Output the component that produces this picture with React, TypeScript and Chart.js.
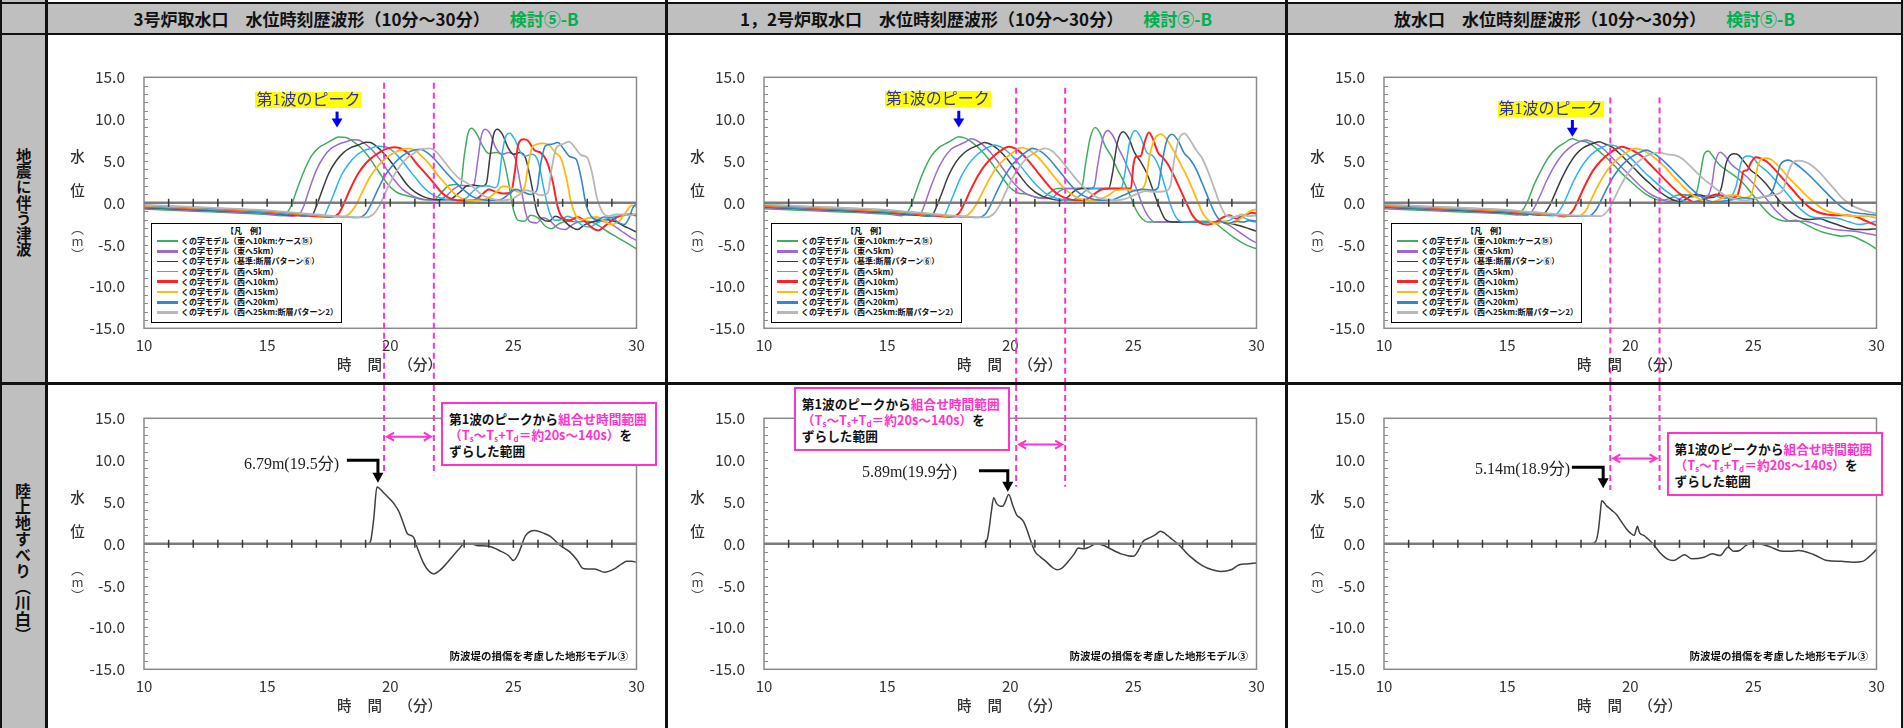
import React, { useEffect, useRef } from "react";
import { Chart, registerables } from "chart.js";

Chart.register(...registerables);

type Pt = [number, number];

// ---------------- labels / categories ----------------
const COLUMN_TITLES = [
  "3号炉取水口　水位時刻歴波形（10分～30分）",
  "1，2号炉取水口　水位時刻歴波形（10分～30分）",
  "放水口　水位時刻歴波形（10分～30分）",
];
const CASE_TAG = "検討⑤-B";
const ROW_LABELS = ["地震に伴う津波", "陸上地すべり（川白）"];
const SERIES_NAMES = [
  "くの字モデル（東へ10km:ケース⑮）",
  "くの字モデル（東へ5km）",
  "くの字モデル（基準:断層パターン⑥）",
  "くの字モデル（西へ5km）",
  "くの字モデル（西へ10km）",
  "くの字モデル（西へ15km）",
  "くの字モデル（西へ20km）",
  "くの字モデル（西へ25km:断層パターン2）",
];
const LEGEND_TITLE = "【凡　例】";
const FIRST_PEAK_LABEL = "第1波のピーク";
const FOOTNOTE = "防波堤の損傷を考慮した地形モデル③";
const X_TICKS = [10, 15, 20, 25, 30];
const Y_TICKS = [-15, -10, -5, 0, 5, 10, 15];
const PEAK_TIMES = [19.5, 19.9, 18.9];
const PEAK_VALUES = [6.79, 5.89, 5.14];
const RANGE_START = [19.75, 20.24, 19.19];
const RANGE_END = [21.77, 22.23, 21.19];
const FIRST_PEAK_TIMES = [17.84, 17.91, 17.65];

// ---------------- 3号炉取水口 (top) ----------------
const C1_E10: Pt[] = [[10,-0.75],[12,-1.0],[14,-1.25],[15,-1.4],[15.6,-1.55],[15.85,-1.0],[16,-0.2],[16.2,1.5],[16.5,3.8],[16.8,5.6],[17.1,6.6],[17.4,7.1],[17.7,7.6],[17.9,7.85],[18.2,7.8],[18.5,7.3],[18.8,6.6],[19.1,5.6],[19.4,4.3],[19.7,3.0],[20,1.9],[20.3,1.2],[20.6,0.9],[21,0.6],[21.4,0.35],[21.8,0.4],[22.1,1.3],[22.4,2.1],[22.7,2.2],[22.85,2.0],[23,5.5],[23.15,8.2],[23.3,8.9],[23.5,8.3],[23.75,6.8],[24,5.9],[24.3,6.0],[24.55,5.6],[24.8,2.5],[25,-0.8],[25.2,-2.1],[25.45,-2.2],[25.7,-1.5],[26,-1.8],[26.3,-2.8],[26.55,-3.1],[26.85,-2.5],[27.2,-2.2],[27.6,-2.3],[28,-2.2],[28.4,-2.6],[28.8,-3.4],[29.2,-4.1],[29.6,-4.8],[30,-5.5]];
const C1_E5: Pt[] = [[10,-0.65],[12,-0.9],[14,-1.15],[15,-1.3],[16,-1.6],[16.3,-1.4],[16.5,-0.3],[16.7,1.5],[17,3.9],[17.3,5.5],[17.6,6.5],[17.9,7.0],[18.2,7.3],[18.5,7.55],[18.7,7.5],[19,7.0],[19.3,6.2],[19.6,5.1],[19.9,3.8],[20.2,2.6],[20.5,1.6],[20.8,1.0],[21.1,0.6],[21.5,0.35],[21.9,0.3],[22.3,0.9],[22.6,1.7],[22.9,2.1],[23.2,2.0],[23.4,2.2],[23.55,5.0],[23.7,8.0],[23.85,8.8],[24.05,8.3],[24.3,6.5],[24.55,5.8],[24.8,6.0],[25.05,5.5],[25.3,2.0],[25.5,-1.2],[25.7,-2.3],[25.95,-2.4],[26.2,-1.8],[26.5,-2.2],[26.8,-3.0],[27.1,-3.2],[27.4,-2.6],[27.8,-2.2],[28.2,-2.3],[28.6,-2.2],[29,-2.6],[29.4,-3.4],[29.7,-4.0],[30,-4.5]];
const C1_BASE: Pt[] = [[10,-0.55],[12,-0.8],[14,-1.05],[15,-1.2],[16,-1.5],[16.8,-1.6],[17,-0.4],[17.2,1.2],[17.5,3.5],[17.8,5.0],[18.1,6.0],[18.4,6.6],[18.7,6.9],[19,7.25],[19.2,7.2],[19.5,6.6],[19.8,5.7],[20.1,4.6],[20.4,3.3],[20.7,2.1],[21,1.3],[21.3,0.8],[21.6,0.5],[22,0.35],[22.4,0.4],[22.8,1.2],[23.1,2.0],[23.4,2.1],[23.7,2.0],[23.9,2.3],[24.05,5.5],[24.2,8.2],[24.35,8.8],[24.55,8.2],[24.8,6.5],[25,5.8],[25.25,6.0],[25.5,5.3],[25.75,2.0],[25.95,-1.0],[26.2,-2.0],[26.45,-2.2],[26.7,-1.6],[27,-2.0],[27.3,-2.8],[27.6,-3.2],[27.9,-2.6],[28.3,-2.2],[28.7,-2.0],[29.1,-2.2],[29.5,-2.8],[29.8,-3.2],[30,-3.5]];
const C1_W5: Pt[] = [[10,-0.5],[12,-0.75],[14,-1.0],[15,-1.15],[16,-1.4],[17,-1.65],[17.3,-1.55],[17.5,-0.4],[17.7,1.0],[18,3.2],[18.3,4.6],[18.6,5.6],[18.9,6.2],[19.2,6.5],[19.5,6.75],[19.8,6.7],[20.1,6.2],[20.4,5.3],[20.7,4.2],[21,3.1],[21.3,2.0],[21.6,1.2],[21.9,0.7],[22.3,0.4],[22.7,0.3],[23.1,0.6],[23.4,1.5],[23.7,2.0],[24,2.0],[24.25,1.8],[24.4,2.5],[24.55,6.0],[24.7,8.0],[24.85,8.3],[25.05,7.6],[25.3,6.0],[25.5,5.6],[25.75,5.8],[26,5.0],[26.25,1.5],[26.45,-1.0],[26.7,-2.1],[26.95,-2.0],[27.2,-1.6],[27.5,-2.0],[27.8,-2.7],[28.1,-2.9],[28.4,-2.4],[28.8,-1.9],[29.2,-1.6],[29.6,-1.5],[29.8,-1.3],[30,-1.6]];
const C1_W10: Pt[] = [[10,-0.4],[12,-0.65],[14,-0.9],[15,-1.05],[16,-1.3],[17,-1.6],[17.6,-1.7],[17.9,-1.3],[18.1,-0.2],[18.4,1.8],[18.7,3.5],[19,4.7],[19.3,5.5],[19.6,6.1],[19.9,6.5],[20.2,6.65],[20.5,6.4],[20.8,5.7],[21.1,4.6],[21.4,3.6],[21.7,2.6],[22,1.5],[22.3,0.7],[22.6,0.35],[23,0.25],[23.4,0.3],[23.7,0.9],[24,1.6],[24.3,1.3],[24.6,1.1],[24.9,1.2],[25.05,3.5],[25.2,7.0],[25.4,7.6],[25.6,7.4],[25.85,6.3],[26.1,6.0],[26.35,5.0],[26.6,2.5],[26.8,-0.5],[27,-1.8],[27.3,-2.1],[27.6,-1.7],[27.9,-2.2],[28.2,-3.0],[28.45,-3.3],[28.75,-2.7],[29.1,-1.9],[29.4,-1.5],[29.7,-1.4],[30,-1.5]];
const C1_W15: Pt[] = [[10,-0.35],[12,-0.6],[14,-0.85],[15,-1.0],[16,-1.25],[17,-1.5],[18,-1.7],[18.3,-1.4],[18.6,-0.3],[18.9,1.5],[19.2,3.2],[19.5,4.4],[19.8,5.3],[20.1,5.9],[20.4,6.3],[20.7,6.5],[21,6.3],[21.3,5.5],[21.6,4.6],[21.9,3.4],[22.2,2.4],[22.5,1.4],[22.8,0.7],[23.2,0.3],[23.6,0.3],[24,0.6],[24.3,1.3],[24.6,2.0],[24.9,1.8],[25.2,1.3],[25.45,1.8],[25.6,4.5],[25.75,6.5],[25.95,7.0],[26.2,7.1],[26.45,6.9],[26.7,6.0],[26.95,5.2],[27.15,3.0],[27.35,0.0],[27.55,-1.6],[27.8,-2.0],[28.1,-1.8],[28.4,-1.7],[28.7,-2.2],[29,-2.6],[29.3,-2.2],[29.6,-1.0],[29.8,-0.3],[30,-0.5]];
const C1_W20: Pt[] = [[10,-0.3],[12,-0.55],[14,-0.8],[15,-0.95],[16,-1.2],[17,-1.45],[18,-1.65],[18.7,-1.75],[19,-1.3],[19.2,-0.3],[19.5,1.6],[19.8,3.3],[20.1,4.5],[20.4,5.4],[20.7,6.0],[21,6.3],[21.2,6.4],[21.5,6.0],[21.8,5.2],[22.1,4.2],[22.4,3.2],[22.7,2.3],[23,1.5],[23.3,0.8],[23.7,0.4],[24.1,0.3],[24.5,0.4],[24.8,1.0],[25.1,1.6],[25.4,1.3],[25.7,1.0],[25.95,1.5],[26.1,4.5],[26.3,6.8],[26.55,7.0],[26.8,7.2],[27.05,6.4],[27.3,5.5],[27.55,5.2],[27.75,3.0],[27.95,-0.2],[28.15,-1.6],[28.4,-2.0],[28.7,-1.7],[29,-1.8],[29.3,-2.4],[29.5,-2.6],[29.7,-1.8],[29.85,-0.6],[30,-0.1]];
const C1_W25: Pt[] = [[10,-0.25],[12,-0.5],[14,-0.75],[15,-0.9],[16,-1.15],[17,-1.4],[18,-1.65],[19,-1.75],[19.3,-1.4],[19.55,-0.4],[19.8,1.2],[20.1,3.0],[20.4,4.4],[20.7,5.4],[21,6.0],[21.3,6.45],[21.6,6.5],[21.9,6.0],[22.2,4.9],[22.5,3.8],[22.8,2.9],[23.1,2.4],[23.4,1.8],[23.7,1.0],[24.1,0.5],[24.5,0.3],[24.9,0.4],[25.2,0.9],[25.5,1.5],[25.8,1.3],[26.1,0.9],[26.4,1.2],[26.55,4.0],[26.75,6.6],[27,7.0],[27.25,7.3],[27.5,6.6],[27.75,5.7],[28,5.4],[28.2,3.5],[28.4,0.5],[28.6,-1.0],[28.85,-1.6],[29.15,-1.4],[29.45,-1.4],[29.75,-1.5],[30,-1.3]];

// ---------------- 1,2号炉取水口 (top) ----------------
const C2_E10: Pt[] = [[10,-0.7],[12,-0.95],[14,-1.2],[15,-1.35],[15.6,-1.55],[15.85,-1.0],[16,-0.1],[16.2,1.6],[16.5,3.9],[16.8,5.6],[17.1,6.6],[17.4,7.1],[17.7,7.6],[17.9,7.9],[18.2,7.7],[18.5,7.1],[18.8,6.3],[19.1,5.3],[19.4,4.1],[19.7,2.9],[20,1.8],[20.3,1.2],[20.7,1.0],[21,0.7],[21.3,0.6],[21.6,1.2],[21.9,1.7],[22.3,1.7],[22.7,1.7],[22.9,1.8],[23.05,4.5],[23.25,7.8],[23.45,9.0],[23.65,8.3],[23.85,6.8],[24.1,5.6],[24.35,4.0],[24.6,2.6],[24.85,1.0],[25.1,-0.8],[25.35,-1.9],[25.6,-2.3],[26,-2.3],[26.5,-2.3],[27,-2.3],[27.5,-2.2],[28,-2.2],[28.3,-2.4],[28.7,-3.3],[29.1,-4.2],[29.5,-4.9],[29.8,-5.3],[30,-5.5]];
const C2_E5: Pt[] = [[10,-0.6],[12,-0.85],[14,-1.1],[15,-1.25],[16,-1.5],[16.3,-1.5],[16.5,-0.4],[16.7,1.3],[17,3.6],[17.3,5.3],[17.6,6.4],[17.9,6.9],[18.2,7.3],[18.4,7.65],[18.6,7.5],[18.9,6.9],[19.2,6.0],[19.5,4.9],[19.8,3.7],[20.1,2.5],[20.4,1.6],[20.7,1.0],[21,0.7],[21.4,0.5],[21.7,0.6],[22,1.4],[22.3,1.7],[22.8,1.7],[23.2,1.7],[23.4,1.9],[23.55,4.5],[23.75,7.6],[23.95,8.65],[24.15,8.1],[24.4,6.5],[24.65,5.0],[24.9,3.3],[25.15,1.5],[25.4,-0.5],[25.65,-1.8],[25.9,-2.3],[26.4,-2.3],[27,-2.3],[27.5,-2.3],[28,-2.3],[28.5,-2.2],[28.9,-2.7],[29.3,-3.5],[29.7,-4.3],[30,-4.8]];
const C2_BASE: Pt[] = [[10,-0.5],[12,-0.75],[14,-1.0],[15,-1.15],[16,-1.4],[16.8,-1.6],[17,-0.5],[17.2,1.0],[17.5,3.3],[17.8,4.9],[18.1,5.9],[18.4,6.5],[18.7,6.9],[18.95,7.2],[19.2,7.0],[19.5,6.4],[19.8,5.5],[20.1,4.4],[20.4,3.2],[20.7,2.1],[21,1.3],[21.3,0.8],[21.6,0.5],[22,0.3],[22.3,0.6],[22.6,1.4],[22.9,1.7],[23.5,1.7],[24,1.7],[24.15,3.5],[24.35,7.2],[24.58,8.5],[24.8,7.8],[25.05,6.0],[25.3,4.9],[25.55,3.5],[25.8,1.5],[26.05,-0.5],[26.3,-2.0],[26.6,-2.3],[27.1,-2.3],[27.6,-2.3],[28.1,-2.3],[28.6,-2.3],[29,-2.5],[29.4,-2.8],[29.7,-3.1],[30,-3.4]];
const C2_W5: Pt[] = [[10,-0.45],[12,-0.7],[14,-0.95],[15,-1.1],[16,-1.35],[17,-1.6],[17.3,-1.55],[17.5,-0.4],[17.7,1.0],[18,3.1],[18.3,4.6],[18.6,5.6],[18.9,6.3],[19.15,6.7],[19.36,6.9],[19.6,6.7],[19.9,6.1],[20.2,5.2],[20.5,4.1],[20.8,3.0],[21.1,2.0],[21.4,1.2],[21.7,0.7],[22.1,0.4],[22.5,0.3],[22.8,0.8],[23.1,1.5],[23.4,1.7],[24,1.7],[24.5,1.7],[24.65,3.5],[24.85,7.3],[25.08,8.65],[25.3,7.8],[25.55,6.0],[25.8,5.6],[26.05,4.2],[26.3,1.8],[26.55,-0.6],[26.8,-2.0],[27.1,-2.3],[27.6,-2.3],[28.1,-2.3],[28.5,-2.3],[28.9,-2.1],[29.2,-1.6],[29.5,-1.8],[29.8,-2.2],[30,-2.3]];
const C2_W10: Pt[] = [[10,-0.35],[12,-0.6],[14,-0.85],[15,-1.0],[16,-1.25],[17,-1.55],[17.6,-1.7],[17.9,-1.3],[18.1,-0.3],[18.4,1.6],[18.7,3.3],[19,4.6],[19.3,5.5],[19.6,6.2],[19.94,6.7],[20.2,6.5],[20.5,5.8],[20.8,4.8],[21.1,3.7],[21.4,2.6],[21.7,1.6],[22,0.9],[22.3,0.5],[22.7,0.3],[23.1,0.4],[23.4,1.0],[23.7,1.6],[24.1,1.7],[24.6,1.7],[24.9,1.7],[25,4.5],[25.1,5.5],[25.3,5.6],[25.45,7.2],[25.63,8.4],[25.8,7.6],[26,6.0],[26.2,5.4],[26.4,4.6],[26.65,3.2],[26.9,1.6],[27.15,0.0],[27.4,-1.5],[27.7,-2.4],[28,-2.6],[28.3,-2.4],[28.6,-1.8],[28.9,-1.5],[29.2,-1.9],[29.5,-1.5],[29.8,-1.2],[30,-1.3]];
const C2_W15: Pt[] = [[10,-0.3],[12,-0.55],[14,-0.8],[15,-0.95],[16,-1.2],[17,-1.45],[18,-1.7],[18.3,-1.4],[18.6,-0.3],[18.9,1.4],[19.2,3.1],[19.5,4.4],[19.8,5.3],[20.1,6.0],[20.44,6.6],[20.7,6.4],[21,5.8],[21.3,4.9],[21.6,3.8],[21.9,2.7],[22.2,1.7],[22.5,1.0],[22.8,0.5],[23.2,0.3],[23.6,0.4],[24,0.9],[24.3,1.5],[24.7,1.6],[25,1.5],[25.3,1.6],[25.5,2.5],[25.65,5.5],[25.85,7.5],[26.12,8.2],[26.35,7.6],[26.6,6.4],[26.85,5.0],[27.1,3.6],[27.35,2.0],[27.6,0.2],[27.85,-1.4],[28.1,-2.2],[28.4,-2.5],[28.7,-2.2],[29,-2.5],[29.3,-2.0],[29.6,-1.3],[29.8,-0.9],[30,-0.8]];
const C2_W20: Pt[] = [[10,-0.25],[12,-0.5],[14,-0.75],[15,-0.9],[16,-1.15],[17,-1.4],[18,-1.65],[18.7,-1.75],[19,-1.3],[19.2,-0.3],[19.5,1.6],[19.8,3.3],[20.1,4.6],[20.4,5.5],[20.7,6.2],[20.89,6.5],[21.2,6.2],[21.5,5.5],[21.8,4.5],[22.1,3.4],[22.4,2.3],[22.7,1.4],[23,0.8],[23.4,0.4],[23.8,0.3],[24.2,0.4],[24.6,0.9],[25,1.4],[25.4,1.6],[25.8,1.5],[26,1.8],[26.15,4.5],[26.35,7.4],[26.57,8.2],[26.8,7.5],[27.05,6.0],[27.3,5.2],[27.55,4.0],[27.8,2.3],[28.05,0.5],[28.3,-1.2],[28.55,-2.2],[28.85,-2.5],[29.15,-2.2],[29.45,-2.3],[29.75,-2.1],[30,-2.2]];
const C2_W25: Pt[] = [[10,-0.2],[12,-0.45],[14,-0.7],[15,-0.85],[16,-1.1],[17,-1.35],[18,-1.6],[19,-1.75],[19.3,-1.4],[19.55,-0.4],[19.8,1.2],[20.1,3.0],[20.4,4.4],[20.7,5.4],[21,6.0],[21.25,6.4],[21.43,6.5],[21.7,6.2],[22,5.3],[22.3,4.2],[22.6,3.1],[22.9,2.1],[23.2,1.3],[23.5,0.7],[23.9,0.4],[24.3,0.3],[24.7,0.5],[25.1,1.0],[25.5,1.4],[25.9,1.3],[26.3,1.4],[26.5,2.0],[26.65,5.0],[26.85,7.6],[27.07,8.3],[27.3,7.5],[27.55,6.3],[27.8,5.3],[28.05,3.6],[28.3,1.6],[28.55,-0.4],[28.8,-1.6],[29.1,-1.7],[29.4,-1.4],[29.7,-1.6],[30,-1.5]];

// ---------------- 放水口 (top) ----------------
const C3_E10: Pt[] = [[10,-0.7],[12,-0.95],[14,-1.2],[15,-1.35],[15.4,-1.45],[15.65,-0.8],[15.85,0.3],[16.1,2.2],[16.4,4.0],[16.7,5.5],[17,6.5],[17.3,7.1],[17.65,7.65],[17.9,7.4],[18.2,7.3],[18.5,6.8],[18.8,6.0],[19.1,5.2],[19.4,4.3],[19.7,3.4],[20,2.6],[20.3,1.8],[20.6,1.1],[20.9,0.6],[21.2,0.3],[21.6,0.5],[21.9,0.9],[22.2,1.0],[22.5,0.7],[22.7,1.3],[22.85,3.5],[23,5.8],[23.17,6.2],[23.35,5.6],[23.6,4.6],[23.9,3.9],[24.2,3.3],[24.5,2.6],[24.8,1.6],[25.1,0.5],[25.4,-0.6],[25.7,-1.5],[26,-2.0],[26.35,-2.2],[26.7,-2.1],[27,-2.4],[27.4,-3.0],[27.8,-3.5],[28.2,-3.8],[28.6,-4.0],[28.9,-3.9],[29.2,-4.2],[29.6,-4.8],[30,-5.5]];
const C3_E5: Pt[] = [[10,-0.6],[12,-0.85],[14,-1.1],[15,-1.25],[15.8,-1.5],[16.1,-0.6],[16.3,0.6],[16.6,2.6],[16.9,4.3],[17.2,5.6],[17.5,6.5],[17.8,7.1],[18.2,7.5],[18.5,7.2],[18.8,6.7],[19.1,5.9],[19.4,5.0],[19.7,4.1],[20,3.2],[20.3,2.3],[20.6,1.5],[20.9,0.9],[21.2,0.5],[21.5,0.2],[21.9,0.3],[22.2,0.8],[22.5,1.0],[22.8,0.8],[23.1,0.8],[23.3,2.0],[23.45,4.8],[23.65,6.05],[23.85,5.6],[24.1,4.6],[24.4,3.9],[24.7,3.2],[25,2.3],[25.3,1.3],[25.6,0.2],[25.9,-0.9],[26.2,-1.7],[26.5,-2.2],[26.8,-2.2],[27.1,-2.2],[27.5,-2.5],[27.9,-2.9],[28.3,-3.2],[28.7,-3.3],[29.1,-3.4],[29.5,-3.6],[30,-3.9]];
const C3_BASE: Pt[] = [[10,-0.5],[12,-0.75],[14,-1.0],[15,-1.15],[16,-1.4],[16.4,-1.5],[16.7,-0.5],[16.9,0.8],[17.2,2.8],[17.5,4.5],[17.8,5.8],[18.1,6.6],[18.4,7.0],[18.73,7.3],[19,7.0],[19.3,6.6],[19.6,5.8],[19.9,4.9],[20.2,4.0],[20.5,3.1],[20.8,2.3],[21.1,1.5],[21.4,0.9],[21.7,0.4],[22,0.1],[22.3,0.5],[22.6,1.0],[22.9,0.9],[23.2,0.6],[23.5,0.8],[23.7,1.8],[23.9,4.8],[24.2,5.85],[24.4,5.7],[24.65,4.8],[24.9,3.9],[25.2,3.2],[25.5,2.3],[25.8,1.2],[26.1,0.1],[26.4,-0.8],[26.7,-1.5],[27,-1.9],[27.3,-2.0],[27.7,-1.9],[28,-2.2],[28.4,-2.6],[28.8,-3.0],[29.2,-3.2],[29.6,-3.2],[30,-3.1]];
const C3_W5: Pt[] = [[10,-0.45],[12,-0.7],[14,-0.95],[15,-1.1],[16,-1.35],[16.9,-1.55],[17.2,-0.6],[17.4,0.6],[17.7,2.6],[18,4.2],[18.3,5.4],[18.6,6.2],[18.9,6.7],[19.13,6.9],[19.4,6.8],[19.7,6.2],[20,5.4],[20.3,4.5],[20.6,3.6],[20.9,2.8],[21.2,2.0],[21.5,1.3],[21.8,0.7],[22.1,0.3],[22.5,0.1],[22.9,0.4],[23.2,0.9],[23.5,0.8],[23.8,0.5],[24.1,0.8],[24.3,2.0],[24.5,4.8],[24.73,5.6],[24.95,5.5],[25.2,4.6],[25.5,3.9],[25.8,3.0],[26.1,2.0],[26.4,1.0],[26.7,-0.1],[27,-1.0],[27.3,-1.6],[27.7,-1.8],[28.1,-1.8],[28.5,-1.9],[28.9,-2.3],[29.3,-2.6],[29.7,-2.4],[30,-2.2]];
const C3_W10: Pt[] = [[10,-0.35],[12,-0.6],[14,-0.85],[15,-1.0],[16,-1.25],[17,-1.5],[17.4,-1.6],[17.7,-0.8],[17.9,0.4],[18.2,2.3],[18.5,3.9],[18.8,5.0],[19.1,5.8],[19.4,6.4],[19.65,6.7],[19.9,6.5],[20.2,6.1],[20.5,5.5],[20.8,4.6],[21.1,3.7],[21.4,2.8],[21.7,1.9],[22,1.1],[22.3,0.5],[22.6,0.1],[22.9,0.2],[23.2,0.7],[23.5,1.0],[23.8,0.8],[24.1,0.6],[24.35,0.9],[24.5,2.5],[24.6,3.8],[24.75,3.9],[24.9,4.8],[25.1,5.45],[25.3,5.3],[25.55,4.9],[25.8,4.2],[26.1,3.2],[26.4,2.2],[26.7,1.2],[27,0.2],[27.3,-0.6],[27.6,-1.1],[28,-1.4],[28.4,-1.5],[28.8,-1.5],[29.2,-1.7],[29.6,-2.2],[30,-2.7]];
const C3_W15: Pt[] = [[10,-0.3],[12,-0.55],[14,-0.8],[15,-0.95],[16,-1.2],[17,-1.45],[17.9,-1.6],[18.2,-0.9],[18.4,0.3],[18.7,2.1],[19,3.6],[19.3,4.7],[19.6,5.5],[19.9,6.1],[20.2,6.5],[20.5,6.3],[20.8,5.8],[21.1,5.1],[21.4,4.3],[21.7,3.3],[22,2.4],[22.3,1.5],[22.6,0.8],[22.9,0.3],[23.3,0.1],[23.7,0.5],[24,0.9],[24.3,0.9],[24.6,0.6],[24.9,0.9],[25.05,2.5],[25.2,4.6],[25.47,5.35],[25.7,5.2],[25.95,4.6],[26.2,3.8],[26.5,2.8],[26.8,1.9],[27.1,1.0],[27.4,0.2],[27.7,-0.5],[28,-1.0],[28.4,-1.3],[28.8,-1.5],[29.2,-1.6],[29.6,-1.6],[30,-1.8]];
const C3_W20: Pt[] = [[10,-0.25],[12,-0.5],[14,-0.75],[15,-0.9],[16,-1.15],[17,-1.4],[18,-1.6],[18.3,-1.6],[18.6,-0.9],[18.8,0.2],[19.1,2.0],[19.4,3.5],[19.7,4.6],[20,5.4],[20.3,5.9],[20.67,6.3],[20.9,6.0],[21.2,5.4],[21.5,4.6],[21.8,3.7],[22.1,2.8],[22.4,1.9],[22.7,1.1],[23,0.5],[23.4,0.1],[23.8,0.2],[24.2,0.4],[24.6,0.6],[25,0.5],[25.4,0.7],[25.7,1.0],[25.9,2.5],[26.1,4.6],[26.43,5.1],[26.7,4.7],[27,4.0],[27.3,3.2],[27.6,2.3],[27.9,1.4],[28.2,0.5],[28.5,-0.3],[28.8,-0.9],[29.1,-1.2],[29.5,-1.3],[30,-1.5]];
const C3_W25: Pt[] = [[10,-0.2],[12,-0.45],[14,-0.7],[15,-0.85],[16,-1.1],[17,-1.35],[18,-1.55],[18.8,-1.6],[19.1,-0.9],[19.3,0.2],[19.6,2.0],[19.9,3.5],[20.2,4.6],[20.5,5.3],[20.8,5.8],[21.2,6.0],[21.5,5.8],[21.8,5.7],[22.1,5.3],[22.4,4.5],[22.7,3.6],[23,2.8],[23.3,2.1],[23.6,1.4],[23.9,0.8],[24.3,0.4],[24.7,0.3],[25.1,0.5],[25.5,0.8],[25.9,1.0],[26.2,1.5],[26.4,3.5],[26.6,4.8],[26.8,5.05],[27.1,4.9],[27.4,4.4],[27.7,3.6],[28,2.6],[28.3,1.6],[28.6,0.6],[28.9,-0.1],[29.2,-0.6],[29.6,-1.0],[30,-1.3]];

// ---------------- 陸上地すべり (bottom) ----------------
const L1_LAND: Pt[] = [[10,0],[18,0],[19.1,0],[19.2,0.3],[19.33,3.0],[19.46,6.79],[19.7,6.2],[20,5.3],[20.2,4.6],[20.36,3.8],[20.55,2.3],[20.7,1.2],[20.94,0.8],[21.1,-0.5],[21.35,-2.3],[21.55,-3.2],[21.76,-3.6],[22,-3.2],[22.18,-2.7],[22.5,-1.6],[22.8,-0.6],[23,0.0],[23.3,0.0],[23.5,-0.2],[24,-0.3],[24.5,-0.9],[24.8,-1.4],[25,-2.0],[25.2,-1.2],[25.5,1.0],[25.87,1.6],[26.2,1.3],[26.5,0.9],[26.9,-0.2],[27.3,-1.0],[27.6,-2.0],[27.8,-2.9],[28,-3.0],[28.3,-3.0],[28.7,-3.4],[29.1,-3.0],[29.4,-2.4],[29.6,-2.1],[29.8,-2.1],[30,-2.2]];
const L2_LAND: Pt[] = [[10,0],[18.86,0],[19.05,0.4],[19.15,2.0],[19.23,3.8],[19.33,5.5],[19.45,4.8],[19.6,4.5],[19.7,4.5],[19.78,4.9],[19.94,5.89],[20.1,4.6],[20.27,3.4],[20.4,3.1],[20.55,2.6],[20.7,1.5],[20.85,0.2],[21,-0.9],[21.2,-1.5],[21.45,-2.1],[21.7,-2.8],[21.9,-3.1],[22.1,-2.9],[22.3,-2.3],[22.6,-1.2],[22.76,-0.5],[23,-0.6],[23.2,-0.4],[23.5,0.0],[23.8,-0.2],[24,-0.5],[24.5,-1.2],[25,-1.5],[25.2,-0.8],[25.4,0.3],[25.65,0.7],[25.9,1.1],[26.1,1.5],[26.3,1.2],[26.5,0.7],[26.8,0.0],[27,-0.6],[27.3,-1.5],[27.8,-2.6],[28.2,-3.1],[28.55,-3.3],[28.97,-3.1],[29.3,-2.5],[29.6,-2.4],[30,-2.3]];
const L3_LAND: Pt[] = [[10,0],[18.4,0],[18.6,0.3],[18.7,1.5],[18.78,3.6],[18.84,5.14],[19.05,4.5],[19.25,4.0],[19.44,3.5],[19.65,2.6],[19.84,1.8],[20,1.3],[20.16,1.0],[20.24,1.7],[20.29,2.1],[20.38,1.3],[20.55,1.0],[20.71,0.6],[20.95,-0.1],[21.19,-1.0],[21.5,-1.8],[21.75,-2.0],[22.06,-1.5],[22.2,-1.3],[22.5,-1.8],[23,-1.6],[23.33,-1.2],[23.65,-1.4],[23.97,-0.4],[24.2,-0.9],[24.44,-0.8],[24.7,-0.2],[24.92,0.1],[25.24,0.0],[25.71,-0.4],[26.19,-0.9],[26.5,-0.9],[26.83,-0.8],[27.46,-1.3],[28,-2.0],[28.57,-2.1],[29.05,-2.2],[29.44,-2.1],[29.68,-1.6],[30,-0.7]];

const TOP_SERIES: Pt[][][] = [
  [C1_E10, C1_E5, C1_BASE, C1_W5, C1_W10, C1_W15, C1_W20, C1_W25],
  [C2_E10, C2_E5, C2_BASE, C2_W5, C2_W10, C2_W15, C2_W20, C2_W25],
  [C3_E10, C3_E5, C3_BASE, C3_W5, C3_W10, C3_W15, C3_W20, C3_W25],
];
const LAND_SERIES: Pt[][] = [L1_LAND, L2_LAND, L3_LAND];

// ---------------- styles ----------------
const SERIES_COLORS = ["#3fae5e", "#9b6bd0", "#3c3c3c", "#2ab4ee", "#ff2424", "#ffb814", "#3487cc", "#b8b8b8"];
const SERIES_WIDTHS = [1.5, 1.5, 1.5, 1.5, 2, 1.8, 1.6, 1.8];
const LEGEND_WIDTHS = [1.3, 3, 1.5, 1.5, 3, 1.6, 2.5, 3];
const PINK = "#ff33cc";
const GREEN_TAG = "#00b050";
const GRAY_BG = "#bfbfbf";
const FONT = "'Noto Sans CJK JP', 'Noto Sans', sans-serif";
const SERIF = "'Liberation Serif', 'DejaVu Serif', 'Noto Sans CJK JP', serif";

// ---------------- geometry ----------------
const COL_LEFT = [46, 666, 1286];
const COL_RIGHT = [666, 1286, 1903];
const PLOT_LEFT = [144, 764, 1384];
const PLOT_W = 492.5;
const PLOT_H = 251;
const TOP_PT = 77.3;
const BOT_PT = 418.3;
const ROW1_TOP = 35, ROW1_BOT = 382, ROW2_TOP = 385, ROW2_BOT = 728;
const YW = 64, XH = 30;

interface Deco {
  dashX: number[];
  dashFrom: number | null;
  dashTo: number | null;
  blue?: { x: number; y1: number; y2: number };
  bent?: { x1: number; x2: number; y: number; tip: number };
  dbl?: number;
}

function makePlugin(d: Deco) {
  return {
    id: "deco",
    afterDatasetsDraw(chart: any) {
      const { ctx, chartArea: a } = chart;
      const ys = chart.scales.y, xs = chart.scales.x;
      ctx.save();
      ctx.strokeStyle = "#8a8a8a";
      ctx.lineWidth = 1.5;
      ctx.strokeRect(a.left, a.top, a.right - a.left, a.bottom - a.top);
      ctx.lineWidth = 1;
      for (let v = -14; v <= 14; v++) {
        const py = Math.round(ys.getPixelForValue(v)) + 0.5;
        ctx.beginPath(); ctx.moveTo(a.left, py); ctx.lineTo(a.left + 4, py); ctx.stroke();
      }
      const y0 = ys.getPixelForValue(0);
      ctx.strokeStyle = "#7c7c7c";
      ctx.lineWidth = 2.5;
      ctx.beginPath(); ctx.moveTo(a.left, y0); ctx.lineTo(a.right, y0); ctx.stroke();
      ctx.strokeStyle = "#3a3a3a";
      ctx.lineWidth = 1.5;
      for (let t = 11; t < 30; t++) {
        const px = xs.getPixelForValue(t);
        ctx.beginPath(); ctx.moveTo(px, y0 - 4); ctx.lineTo(px, y0 + 4); ctx.stroke();
      }
      ctx.restore();
    },
    afterDraw(chart: any) {
      const { ctx } = chart;
      const ys = chart.scales.y, xs = chart.scales.x;
      ctx.save();
      ctx.strokeStyle = PINK;
      ctx.lineWidth = 2;
      ctx.setLineDash([6, 4]);
      const yA = d.dashFrom === null ? 0 : ys.getPixelForValue(d.dashFrom);
      const yB = d.dashTo === null ? chart.height : ys.getPixelForValue(d.dashTo);
      d.dashX.forEach((t) => {
        const px = xs.getPixelForValue(t);
        ctx.beginPath(); ctx.moveTo(px, yA); ctx.lineTo(px, yB); ctx.stroke();
      });
      ctx.setLineDash([]);
      if (d.dbl !== undefined) {
        const x1 = xs.getPixelForValue(d.dashX[0]) + 3;
        const x2 = xs.getPixelForValue(d.dashX[1]) - 3;
        const py = ys.getPixelForValue(d.dbl);
        ctx.beginPath();
        ctx.moveTo(x1, py); ctx.lineTo(x2, py);
        ctx.moveTo(x1 + 7, py - 4); ctx.lineTo(x1, py); ctx.lineTo(x1 + 7, py + 4);
        ctx.moveTo(x2 - 7, py - 4); ctx.lineTo(x2, py); ctx.lineTo(x2 - 7, py + 4);
        ctx.stroke();
      }
      if (d.blue) {
        const px = xs.getPixelForValue(d.blue.x);
        const p1 = ys.getPixelForValue(d.blue.y1);
        const p2 = ys.getPixelForValue(d.blue.y2);
        ctx.strokeStyle = "#0000ff"; ctx.fillStyle = "#0000ff"; ctx.lineWidth = 3;
        ctx.beginPath(); ctx.moveTo(px, p1); ctx.lineTo(px, p2 - 7); ctx.stroke();
        ctx.beginPath(); ctx.moveTo(px - 5.5, p2 - 9); ctx.lineTo(px + 5.5, p2 - 9); ctx.lineTo(px, p2); ctx.closePath(); ctx.fill();
      }
      if (d.bent) {
        const x1 = xs.getPixelForValue(d.bent.x1);
        const x2 = xs.getPixelForValue(d.bent.x2);
        const py = ys.getPixelForValue(d.bent.y);
        const tip = ys.getPixelForValue(d.bent.tip);
        ctx.strokeStyle = "#000"; ctx.fillStyle = "#000"; ctx.lineWidth = 3;
        ctx.beginPath(); ctx.moveTo(x1, py); ctx.lineTo(x2, py); ctx.lineTo(x2, tip - 8); ctx.stroke();
        ctx.beginPath(); ctx.moveTo(x2 - 5.5, tip - 10); ctx.lineTo(x2 + 5.5, tip - 10); ctx.lineTo(x2, tip); ctx.closePath(); ctx.fill();
      }
      ctx.restore();
    },
  };
}

interface ChartProps {
  col: number;
  rowTop: number;
  rowBot: number;
  plotTop: number;
  series: Pt[][];
  colors: string[];
  widths: number[];
  deco: Deco;
}

function WaveChart({ col, rowTop, rowBot, plotTop, series, colors, widths, deco }: ChartProps) {
  const ref = useRef<HTMLCanvasElement>(null);
  const cLeft = COL_LEFT[col] + 2;
  const cW = COL_RIGHT[col] - COL_LEFT[col] - 3;
  const cH = rowBot - rowTop;
  useEffect(() => {
    const padLeft = PLOT_LEFT[col] - cLeft - YW;
    const padRight = cLeft + cW - (PLOT_LEFT[col] + PLOT_W);
    const padTop = plotTop - rowTop;
    const padBottom = rowBot - (plotTop + PLOT_H) - XH;
    const chart = new Chart(ref.current as HTMLCanvasElement, {
      type: "line",
      data: {
        datasets: series.map((s, i) => ({
          data: s.map(([x, y]) => ({ x, y })),
          borderColor: colors[i],
          borderWidth: widths[i],
          pointRadius: 0,
          fill: false,
          cubicInterpolationMode: "monotone" as const,
          order: series.length - i,
        })),
      },
      options: {
        animation: false,
        responsive: false,
        maintainAspectRatio: false,
        events: [],
        layout: { padding: { left: padLeft, right: padRight, top: padTop, bottom: padBottom } },
        plugins: { legend: { display: false }, tooltip: { enabled: false } },
        scales: {
          x: {
            type: "linear",
            min: 10,
            max: 30,
            afterBuildTicks: (s: any) => { s.ticks = X_TICKS.map((v) => ({ value: v })); },
            afterFit: (s: any) => { s.height = XH; },
            grid: { display: false, drawTicks: false },
            border: { display: false },
            ticks: { autoSkip: false, maxRotation: 0, padding: 7.5, color: "#333", font: { family: FONT, size: 15 }, callback: (v: any) => String(v) },
          },
          y: {
            type: "linear",
            min: -15,
            max: 15,
            afterBuildTicks: (s: any) => { s.ticks = Y_TICKS.map((v) => ({ value: v })); },
            afterFit: (s: any) => { s.width = YW; },
            grid: { display: false, drawTicks: false },
            border: { display: false },
            ticks: { padding: 19, color: "#333", font: { family: FONT, size: 15.5 }, callback: (v: any) => Number(v).toFixed(1) },
          },
        },
      },
      plugins: [makePlugin(deco)],
    } as any);
    return () => chart.destroy();
  }, []);
  return (
    <canvas
      ref={ref}
      width={cW}
      height={cH}
      style={{ position: "absolute", left: cLeft, top: rowTop, width: cW, height: cH }}
    />
  );
}

function Txt({ x, y, align = "center", style, children }: { x: number; y: number; align?: string; style?: React.CSSProperties; children: React.ReactNode }) {
  const tx = align === "center" ? "-50%" : align === "right" ? "-100%" : "0";
  return (
    <div style={{ position: "absolute", left: x, top: y, transform: `translate(${tx},-50%)`, whiteSpace: "nowrap", lineHeight: 1, ...style }}>
      {children}
    </div>
  );
}

function AxisTitles({ col, plotTop }: { col: number; plotTop: number }) {
  const pl = PLOT_LEFT[col];
  const pc = pl + PLOT_W / 2;
  const pb = plotTop + PLOT_H;
  const st: React.CSSProperties = { font: `500 14.5px ${FONT}`, color: "#333" };
  return (
    <>
      <Txt x={pl - 66.5} y={plotTop + 77.7} style={st}>水</Txt>
      <Txt x={pl - 66.5} y={plotTop + 111.7} style={st}>位</Txt>
      <div style={{ position: "absolute", left: pl - 66.5, top: plotTop + 144.2, transform: "translateX(-50%)", writingMode: "vertical-rl", textOrientation: "upright", font: `13px ${FONT}`, color: "#444", lineHeight: 1 }}>（m）</div>
      <Txt x={pc - 46} y={pb + 35} style={st}>時</Txt>
      <Txt x={pc - 15.6} y={pb + 35} style={st}>間</Txt>
      <Txt x={pc + 30} y={pb + 35} style={st}>（分）</Txt>
    </>
  );
}

function Legend({ x, y }: { x: number; y: number }) {
  return (
    <div style={{ position: "absolute", left: x, top: y, width: 191, height: 100, border: "1.5px solid #000", background: "#fff", boxSizing: "border-box" }}>
      <div style={{ position: "absolute", left: 0, right: 0, top: 7.5, transform: "translateY(-50%)", textAlign: "center", font: `bold 8px ${FONT}`, lineHeight: 1 }}>{LEGEND_TITLE}</div>
      {SERIES_NAMES.map((n, i) => (
        <React.Fragment key={i}>
          <div style={{ position: "absolute", left: 5, width: 21, top: 17.5 + i * 10.2 - LEGEND_WIDTHS[i] / 2, height: LEGEND_WIDTHS[i], background: SERIES_COLORS[i] }} />
          <div style={{ position: "absolute", left: 29.5, top: 17.5 + i * 10.2, transform: "translateY(-50%)", font: `bold 8px ${FONT}`, whiteSpace: "nowrap", lineHeight: 1, color: "#111" }}>{n}</div>
        </React.Fragment>
      ))}
    </div>
  );
}

function RangeNote({ x, y }: { x: number; y: number }) {
  const sub: React.CSSProperties = { fontSize: "8px", verticalAlign: "-2px", lineHeight: 0 };
  return (
    <div style={{ position: "absolute", left: x, top: y, width: 216, height: 64, border: `2px solid ${PINK}`, background: "#fff", boxSizing: "border-box", font: `bold 12.7px ${FONT}`, lineHeight: "16px", padding: "7px 0 0 6px", whiteSpace: "nowrap", color: "#111" }}>
      <div>第1波のピークから<span style={{ color: PINK }}>組合せ時間範囲</span></div>
      <div><span style={{ color: PINK }}>（T<span style={sub}>s</span>～T<span style={sub}>s</span>+T<span style={sub}>d</span>＝約20s～140s）</span>を</div>
      <div>ずらした範囲</div>
    </div>
  );
}

// per-column annotation placement (pixels / data units)
const TOP_LABEL_DX = [111.4, 120.8, 113.6];
const TOP_LABEL_DY = [14.4, 13.7, 23.4];
const BLUE_ARROW_Y = [[10.9, 9.0], [11.0, 9.0], [9.9, 7.9]];
const DASH_TOP_FROM = [14.35, 13.76, 12.6];
const DASH_BOT_TO = [8.2, 6.83, 6.43];
const BENT_START = [18.24, 18.73, 17.63];
const BENT_Y = [[10.0, 7.3], [8.74, 6.23], [9.14, 6.63]];
const DBL_Y = [12.8, 11.86, 10.2];
const PEAK_LABEL_DX = [195, 193, 186];
const PEAK_LABEL_DY = [43.4, 51.7, 48.7];
const NOTE_DX = [297, 29.8, 282.5];
const NOTE_Y = [401.7, 387.3, 432.3];

export default function App() {
  return (
    <div style={{ position: "fixed", left: 0, top: 0, width: 1903, height: 728, background: "#fff", overflow: "hidden", fontFamily: FONT }}>
      <div style={{ position: "absolute", left: 0, top: 3, width: 1903, height: 31, background: GRAY_BG }} />
      <div style={{ position: "absolute", left: 0, top: 0, width: 46, height: 728, background: GRAY_BG }} />

      {[0, 1, 2].map((c) => (
        <React.Fragment key={c}>
          <WaveChart
            col={c}
            rowTop={ROW1_TOP}
            rowBot={ROW1_BOT}
            plotTop={TOP_PT}
            series={TOP_SERIES[c]}
            colors={SERIES_COLORS}
            widths={SERIES_WIDTHS}
            deco={{
              dashX: [RANGE_START[c], RANGE_END[c]],
              dashFrom: DASH_TOP_FROM[c],
              dashTo: null,
              blue: { x: FIRST_PEAK_TIMES[c], y1: BLUE_ARROW_Y[c][0], y2: BLUE_ARROW_Y[c][1] },
            }}
          />
          <WaveChart
            col={c}
            rowTop={ROW2_TOP}
            rowBot={ROW2_BOT}
            plotTop={BOT_PT}
            series={[LAND_SERIES[c]]}
            colors={["#404040"]}
            widths={[1.5]}
            deco={{
              dashX: [RANGE_START[c], RANGE_END[c]],
              dashFrom: null,
              dashTo: DASH_BOT_TO[c],
              bent: { x1: BENT_START[c], x2: PEAK_TIMES[c], y: BENT_Y[c][0], tip: BENT_Y[c][1] },
              dbl: DBL_Y[c],
            }}
          />
          <AxisTitles col={c} plotTop={TOP_PT} />
          <AxisTitles col={c} plotTop={BOT_PT} />
          <div style={{ position: "absolute", left: PLOT_LEFT[c] + TOP_LABEL_DX[c], top: TOP_PT + TOP_LABEL_DY[c], height: 16, padding: "0 1px", background: "#ffff00", color: "#2e2eb0", font: `16px ${SERIF}`, lineHeight: "16px", whiteSpace: "nowrap" }}>{FIRST_PEAK_LABEL}</div>
          <Legend x={PLOT_LEFT[c] + 6.5} y={TOP_PT + 145.3} />
          <Txt x={PLOT_LEFT[c] + PEAK_LABEL_DX[c]} y={BOT_PT + PEAK_LABEL_DY[c]} align="right" style={{ font: `16px ${SERIF}`, color: "#222" }}>
            {`${PEAK_VALUES[c].toFixed(2)}m(${PEAK_TIMES[c].toFixed(1)}分)`}
          </Txt>
          <RangeNote x={PLOT_LEFT[c] + NOTE_DX[c]} y={NOTE_Y[c]} />
          <Txt x={PLOT_LEFT[c] + PLOT_W - 8.5} y={BOT_PT + 236.7} align="right" style={{ font: `bold 10.5px ${FONT}`, color: "#111" }}>{FOOTNOTE}</Txt>
          <div style={{ position: "absolute", left: COL_LEFT[c], width: COL_RIGHT[c] - COL_LEFT[c], top: 3, height: 31, display: "flex", alignItems: "center", justifyContent: "center", font: `bold 17px ${FONT}`, color: "#111", whiteSpace: "nowrap" }}>
            <span>{COLUMN_TITLES[c]}</span>
            <span style={{ marginLeft: 20, color: GREEN_TAG }}>{CASE_TAG}</span>
          </div>
        </React.Fragment>
      ))}

      <div style={{ position: "absolute", left: 23, top: 148, transform: "translateX(-50%)", writingMode: "vertical-rl", font: `bold 15.6px ${FONT}`, lineHeight: 1, color: "#111" }}>{ROW_LABELS[0]}</div>
      <div style={{ position: "absolute", left: 23, top: 483, transform: "translateX(-50%)", writingMode: "vertical-rl", font: `bold 16px ${FONT}`, lineHeight: 1, color: "#111" }}>{ROW_LABELS[1]}</div>

      <div style={{ position: "absolute", left: 0, top: 2, width: 1903, height: 2, background: "#111" }} />
      <div style={{ position: "absolute", left: 0, top: 33, width: 1903, height: 2, background: "#111" }} />
      <div style={{ position: "absolute", left: 0, top: 382, width: 1903, height: 2.5, background: "#111" }} />
      <div style={{ position: "absolute", left: 0, top: 0, width: 2, height: 728, background: "#111" }} />
      <div style={{ position: "absolute", left: 45, top: 0, width: 2.5, height: 728, background: "#111" }} />
      <div style={{ position: "absolute", left: 665, top: 0, width: 2.5, height: 728, background: "#111" }} />
      <div style={{ position: "absolute", left: 1285, top: 0, width: 2.5, height: 728, background: "#111" }} />
      <div style={{ position: "absolute", left: 1901, top: 0, width: 2, height: 728, background: "#111" }} />
    </div>
  );
}
